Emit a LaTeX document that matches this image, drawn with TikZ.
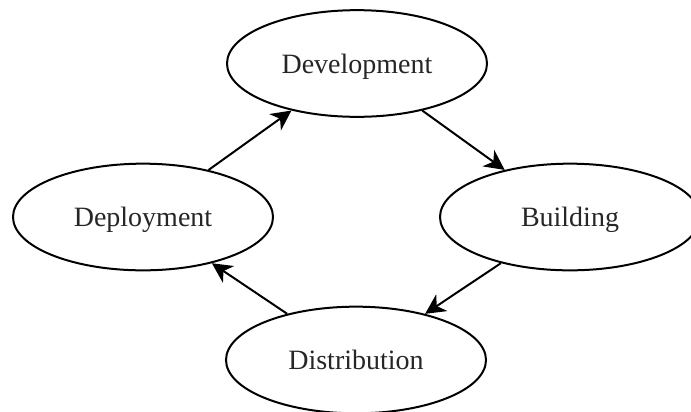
\documentclass[tikz,border=0pt]{standalone}
\usepackage{fontspec}
\setmainfont{Liberation Serif}
\usetikzlibrary{shapes.geometric,arrows.meta}
\begin{document}
\begin{tikzpicture}[x=0.75pt,y=-0.75pt,
  state/.style={ellipse,draw,line width=1.5pt,minimum width=195pt,minimum height=80pt,inner sep=0pt,
    text depth=0pt,font=\fontsize{21}{25}\selectfont,text=black!85},
  flow/.style={line width=1.5pt,-{Stealth[length=15pt,width=15pt,inset=4.5pt]}}]
\useasboundingbox (0,0) rectangle (691,411);
\node[state] (dev) at (357,63.5) {Development};
\node[state] (bld) at (570,217) {Building};
\node[state] (dep) at (143,217) {Deployment};
\node[state] (dis) at (356,360) {Distribution};
\draw[flow] (dep) -- (dev);
\draw[flow] (dev) -- (bld);
\draw[flow] (bld) -- (dis);
\draw[flow] (dis) -- (dep);
\end{tikzpicture}
\end{document}
